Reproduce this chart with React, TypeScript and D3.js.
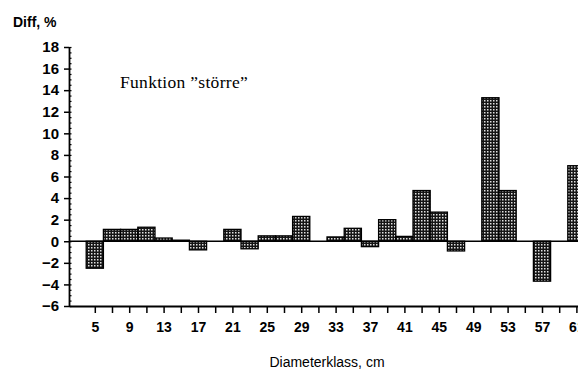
import { useRef, useEffect } from 'react';
import * as d3 from 'd3';

// diameter classes, cm (every class has a tick, every other one a label)
const classes = [5, 7, 9, 11, 13, 15, 17, 19, 21, 23, 25, 27, 29, 31, 33, 35, 37, 39, 41, 43, 45, 47, 49, 51, 53, 55, 57, 59, 61];
// difference in percent
const diffs = [-2.5, 1.1, 1.1, 1.3, 0.3, 0.1, -0.8, 0, 1.1, -0.7, 0.5, 0.5, 2.3, 0, 0.4, 1.2, -0.5, 2.0, 0.45, 4.7, 2.7, -0.9, 0, 13.3, 4.7, 0, -3.7, 0, 7.0];
const yTicks = [-6, -4, -2, 0, 2, 4, 6, 8, 10, 12, 14, 16, 18];
const xLabels = [5, 9, 13, 17, 21, 25, 29, 33, 37, 41, 45, 49, 53, 57, 61];

export default function App() {
  const svgRef = useRef<SVGSVGElement>(null);

  useEffect(() => {
    const w = 578;
    const h = 370;
    const left = 69;
    const bottom = 306;
    const top = 47;
    const sans = 'Liberation Sans, Arial, Helvetica, sans-serif';

    const svg = d3.select(svgRef.current).attr('width', w).attr('height', h);
    svg.selectAll('*').remove();

    // dotted fill like the printed bars
    const pat = svg
      .append('defs')
      .append('pattern')
      .attr('id', 'dots')
      .attr('patternUnits', 'userSpaceOnUse')
      .attr('width', 3)
      .attr('height', 3);
    pat.append('rect').attr('width', 3).attr('height', 3).attr('fill', '#151515');
    pat.append('rect').attr('x', 1).attr('y', 1).attr('width', 1.5).attr('height', 1.5).attr('fill', '#e0e0e0');

    const xScale = d3.scaleLinear().domain([2, 62]).range([left, left + 60 * 8.6]);
    const yScale = d3.scaleLinear().domain([-6, 18]).range([bottom, top]);
    const bw = xScale(7) - xScale(5);

    // bars
    svg
      .selectAll('rect.bar')
      .data(classes.map((c, i) => ({ c, v: diffs[i] })).filter((d) => d.v !== 0))
      .enter()
      .append('rect')
      .attr('class', 'bar')
      .attr('x', (d) => xScale(d.c) - bw / 2)
      .attr('width', bw)
      .attr('y', (d) => yScale(Math.max(0, d.v)))
      .attr('height', (d) => Math.abs(yScale(d.v) - yScale(0)))
      .attr('fill', 'url(#dots)')
      .attr('stroke', '#000')
      .attr('stroke-width', 1.3);

    // zero line
    svg
      .append('line')
      .attr('x1', left)
      .attr('x2', w)
      .attr('y1', yScale(0))
      .attr('y2', yScale(0))
      .attr('stroke', '#000')
      .attr('stroke-width', 1.5);

    // y axis, minor ticks every 0.5
    const yMinor = d3.axisRight(yScale).tickValues(d3.range(-6, 18.01, 0.5)).tickSize(2.5).tickFormat(() => '');
    const gMinor = svg.append('g').attr('transform', `translate(${left},0)`).call(yMinor);
    gMinor.select('.domain').remove();
    gMinor.selectAll('line').attr('stroke-width', 1.2);

    const yAxis = d3.axisLeft(yScale).tickValues(yTicks).tickSize(5).tickSizeOuter(0).tickPadding(5)
      .tickFormat((d) => (Number(d) < 0 ? '\u2212' + Math.abs(Number(d)) : String(d)));
    const gy = svg.append('g').attr('transform', `translate(${left},0)`).call(yAxis);
    gy.select('.domain').attr('stroke-width', 1.8);
    gy.selectAll('line').attr('stroke-width', 1.5);
    gy.selectAll('text')
      .attr('font-family', sans)
      .attr('font-weight', 'bold')
      .attr('font-size', 15)
      .attr('fill', '#000');

    // x axis
    const xAxis = d3.axisBottom(xScale).tickValues(classes).tickSize(7).tickSizeOuter(0).tickPadding(9)
      .tickFormat((d) => (xLabels.includes(Number(d)) ? String(d) : ''));
    const gx = svg.append('g').attr('transform', `translate(0,${bottom})`).call(xAxis);
    gx.select('.domain').attr('stroke-width', 1.8);
    gx.selectAll('line').attr('stroke-width', 1.5);
    gx.selectAll('text')
      .attr('font-family', sans)
      .attr('font-weight', 'bold')
      .attr('font-size', 14)
      .attr('fill', '#000');

    // titles
    svg
      .append('text')
      .attr('x', 13)
      .attr('y', 27)
      .attr('font-family', sans)
      .attr('font-weight', 'bold')
      .attr('font-size', 14)
      .text('Diff,  %');

    svg
      .append('text')
      .attr('x', 327)
      .attr('y', 367)
      .attr('text-anchor', 'middle')
      .attr('font-family', sans)
      .attr('font-size', 14)
      .text('Diameterklass,  cm');

    svg
      .append('text')
      .attr('x', 120)
      .attr('y', 88)
      .attr('font-family', 'Liberation Serif, Times New Roman, serif')
      .attr('font-size', 17.5)
      .attr('letter-spacing', 0.3)
      .text('Funktion \u201dstörre\u201d');
  }, []);

  return <svg ref={svgRef} style={{ position: 'absolute', left: 0, top: 0 }}></svg>;
}
